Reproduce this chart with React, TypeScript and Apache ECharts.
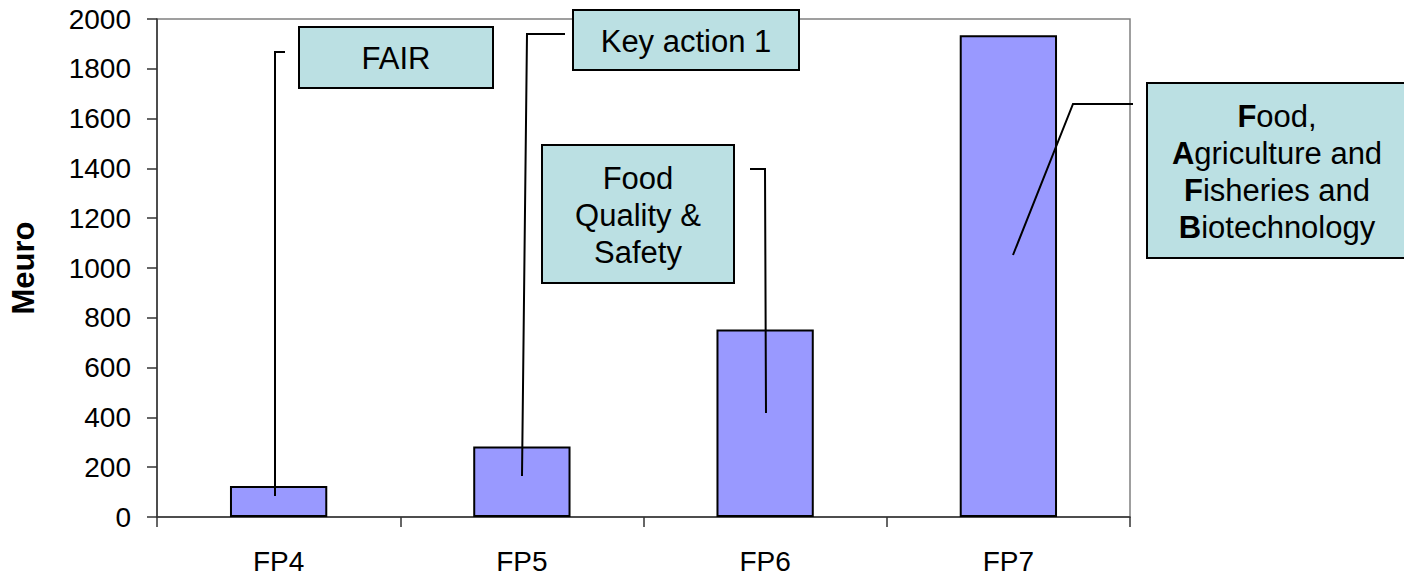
import React, { useEffect, useRef } from "react";
import * as echarts from "echarts";

const categories = ["FP4", "FP5", "FP6", "FP7"];
const budgets = [125, 283, 753, 1935];
const yTicks = { min: 0, max: 2000, interval: 200 };
const axisName = "Meuro";
const notes = ["FAIR", "Key action 1", "Food\nQuality &\nSafety", "{b|F}ood,\n{b|A}griculture and\n{b|F}isheries and\n{b|B}iotechnology"];

const FONT = "'Liberation Sans', Arial, sans-serif";
const BOX_FILL = "#BBE0E3";

function box(x: number, y: number, w: number, h: number) {
  return {
    type: "rect",
    shape: { x, y, width: w, height: h },
    style: { fill: BOX_FILL, stroke: "#000", lineWidth: 2 },
    z: 10,
  };
}
function label(x: number, y: number, text: string, rich = false) {
  const style: any = {
    text,
    x: 0,
    y: 0,
    fontSize: 31,
    fontFamily: FONT,
    fill: "#000",
    align: "center",
    verticalAlign: "middle",
    lineHeight: 37,
  };
  if (rich) style.rich = { b: { fontWeight: "bold", fontSize: 31, fontFamily: FONT, lineHeight: 37 } };
  return { type: "text", x, y, style, z: 11 };
}
function leader(points: number[][]) {
  return {
    type: "polyline",
    shape: { points },
    style: { stroke: "#000", lineWidth: 2, fill: null },
    z: 12,
  };
}

export default function App() {
  const ref = useRef<HTMLDivElement>(null);
  useEffect(() => {
    if (!ref.current) return;
    const chart = echarts.init(ref.current, null, { renderer: "svg" });
    chart.setOption({
      animation: false,
      backgroundColor: "#fff",
      grid: {
        left: 157,
        right: 274,
        top: 19,
        bottom: 60,
        show: true,
        borderColor: "#808080",
        borderWidth: 1.5,
        backgroundColor: "transparent",
      },
      xAxis: {
        type: "category",
        data: categories,
        boundaryGap: true,
        axisLine: { show: true, lineStyle: { color: "#333", width: 1.5 } },
        axisTick: { show: true, length: 10, alignWithLabel: false, lineStyle: { color: "#333", width: 1.5 } },
        axisLabel: { color: "#000", fontSize: 28, fontFamily: FONT, margin: 30, interval: 0 },
        splitLine: { show: false },
      },
      yAxis: {
        type: "value",
        min: yTicks.min,
        max: yTicks.max,
        interval: yTicks.interval,
        name: axisName,
        nameLocation: "middle",
        nameGap: 118,
        nameRotate: 90,
        nameTextStyle: { color: "#000", fontSize: 31, fontWeight: "bold", fontFamily: FONT },
        axisLine: { show: true, lineStyle: { color: "#333", width: 1.5 } },
        axisTick: { show: true, length: 10, lineStyle: { color: "#333", width: 1.5 } },
        axisLabel: {
          color: "#000",
          fontSize: 28,
          fontFamily: FONT,
          margin: 26,
          formatter: (v: number) => String(v),
        },
        splitLine: { show: false },
      },
      series: [
        {
          type: "bar",
          data: budgets,
          barWidth: "40%",
          itemStyle: { color: "#9999FF", borderColor: "#000", borderWidth: 2 },
        },
      ],
      graphic: [
        leader([[275, 496], [275, 52], [285, 52]]),
        box(299, 27, 194, 61),
        label(396, 58, notes[0]),
        leader([[522, 476], [527, 34], [565, 34]]),
        box(573, 10, 226, 60),
        label(686, 41, notes[1]),
        leader([[766, 413], [765, 169], [750, 169]]),
        box(542, 145, 192, 138),
        label(638, 215, notes[2]),
        leader([[1013, 255], [1073, 104], [1133, 104]]),
        box(1147, 83, 263, 175),
        label(1277, 172, notes[3], true),
      ],
    });
    return () => chart.dispose();
  }, []);
  return (
    <div
      ref={ref}
      style={{ position: "fixed", left: 0, top: 0, width: 1404, height: 577, background: "#fff" }}
    />
  );
}
